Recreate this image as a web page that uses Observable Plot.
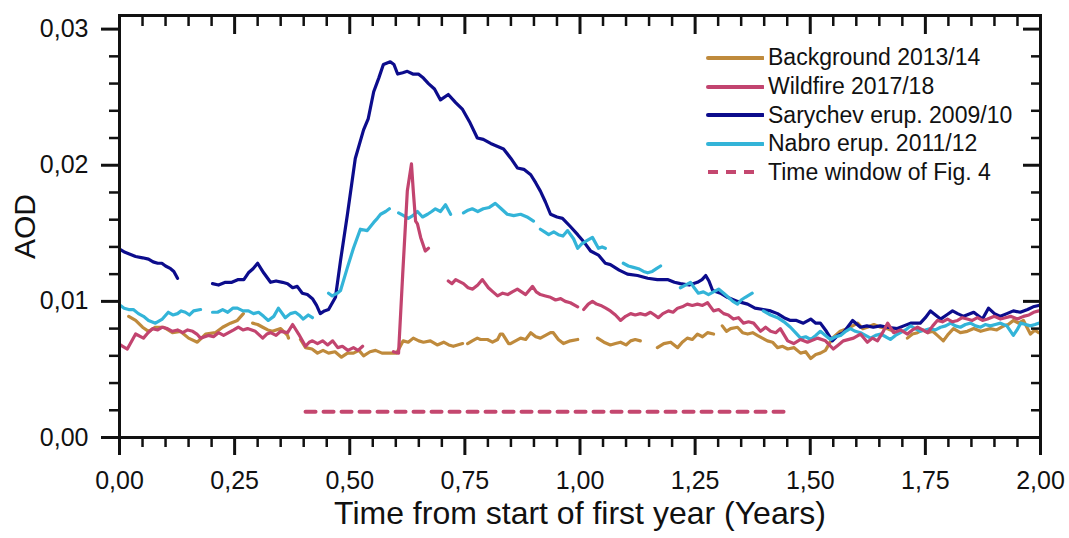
<!DOCTYPE html>
<html><head><meta charset="utf-8">
<script src="https://cdn.jsdelivr.net/npm/d3@7"></script>
<script src="https://cdn.jsdelivr.net/npm/@observablehq/plot@0.6"></script>
<style>
body{margin:0;background:#fff;}
#wrap{position:relative;width:1069px;height:538px;font-family:"Liberation Sans",Arial,sans-serif;}
#legend{position:absolute;left:706px;top:43.7px;}
.row{display:flex;align-items:center;height:28.6px;font-size:23px;color:#111;white-space:nowrap;}
.row svg{margin-right:4px;}
</style></head><body><div id="wrap"><div id="legend"></div></div>
<script>
// ---- data: [time (years), AOD]; NaN marks a gap in the record ----
const background = [
  [0.020,0.0089],[0.035,0.0086],[0.050,0.0081],[0.063,0.0078],[0.078,0.0081],[0.096,0.0081],[0.115,0.0077],[0.132,0.0078],[0.150,0.0073],[0.169,0.0070],[0.187,0.0076],[0.208,0.0077],[0.224,0.0081],[0.241,0.0084],[0.256,0.0086],[0.269,0.0091],
  [0.278,NaN],
  [0.289,0.0084],[0.300,0.0083],[0.311,0.0081],[0.322,0.0079],[0.332,0.0078],[0.350,0.0080],[0.365,0.0075],[0.367,0.0073],
  [0.380,NaN],
  [0.393,0.0072],[0.404,0.0066],[0.418,0.0065],[0.430,0.0062],[0.442,0.0064],[0.454,0.0062],[0.468,0.0063],[0.482,0.0059],[0.495,0.0062],[0.508,0.0062],[0.520,0.0064],[0.530,0.0060],[0.544,0.0063],[0.556,0.0064],[0.570,0.0062],[0.584,0.0062],[0.602,0.0062],[0.616,0.0071],[0.627,0.0070],[0.638,0.0073],[0.650,0.0071],[0.660,0.0070],[0.675,0.0071],[0.690,0.0068],[0.704,0.0070],[0.715,0.0068],[0.725,0.0067],[0.745,0.0069],
  [0.750,NaN],
  [0.756,0.0069],[0.766,0.0071],[0.777,0.0073],[0.784,0.0072],[0.799,0.0072],[0.810,0.0070],[0.821,0.0072],[0.827,0.0076],[0.832,0.0076],[0.845,0.0069],[0.849,0.0069],[0.860,0.0071],[0.871,0.0073],[0.882,0.0072],[0.893,0.0077],[0.904,0.0074],[0.914,0.0073],[0.925,0.0075],[0.936,0.0077],[0.942,0.0077],[0.953,0.0072],[0.964,0.0069],[0.979,0.0071],[0.995,0.0072],
  [1.020,NaN],
  [1.038,0.0073],[1.052,0.0070],[1.066,0.0068],[1.077,0.0069],[1.088,0.0070],[1.100,0.0068],[1.110,0.0071],[1.120,0.0072],[1.131,0.0071],
  [1.150,NaN],
  [1.168,0.0066],[1.182,0.0069],[1.197,0.0070],[1.212,0.0066],[1.222,0.0070],[1.233,0.0073],[1.244,0.0072],[1.255,0.0076],[1.266,0.0074],[1.277,0.0077],[1.290,0.0076],
  [1.300,NaN],
  [1.309,0.0082],[1.318,0.0078],[1.327,0.0080],[1.342,0.0081],[1.353,0.0077],[1.364,0.0076],[1.375,0.0077],[1.385,0.0075],[1.396,0.0073],[1.407,0.0071],[1.418,0.0070],[1.429,0.0066],[1.440,0.0067],[1.451,0.0065],[1.465,0.0066],[1.479,0.0062],[1.490,0.0063],[1.501,0.0058],[1.512,0.0061],[1.522,0.0062],[1.533,0.0064],[1.548,0.0073],[1.565,0.0078],[1.581,0.0080],[1.592,0.0082],[1.603,0.0084],[1.614,0.0080],[1.624,0.0081],[1.638,0.0083],[1.653,0.0081],[1.667,0.0080],[1.681,0.0078],
  [1.695,NaN],
  [1.711,0.0073],[1.722,0.0076],[1.733,0.0077],[1.744,0.0079],[1.755,0.0077],[1.766,0.0078],[1.776,0.0075],[1.789,0.0071],[1.800,0.0076],[1.811,0.0080],[1.826,0.0077],[1.841,0.0078],[1.855,0.0080],[1.870,0.0078],[1.880,0.0079],[1.891,0.0080],[1.905,0.0079],[1.920,0.0082],[1.930,0.0083],[1.941,0.0086],[1.952,0.0084],[1.963,0.0086],[1.978,0.0076],[1.988,0.0079],[1.996,0.0077]
];
const wildfire = [
  [0.002,0.0068],[0.007,0.0067],[0.017,0.0065],[0.035,0.0076],[0.052,0.0073],[0.062,0.0077],[0.072,0.0080],[0.083,0.0079],[0.093,0.0081],[0.104,0.0080],[0.115,0.0078],[0.126,0.0079],[0.137,0.0077],[0.148,0.0079],[0.159,0.0078],[0.168,0.0076],[0.176,0.0073],[0.193,0.0075],[0.204,0.0074],[0.215,0.0077],[0.226,0.0075],[0.237,0.0077],[0.248,0.0079],[0.258,0.0081],[0.268,0.0079],[0.278,0.0080],[0.295,0.0078],[0.311,0.0073],[0.320,0.0076],[0.328,0.0077],[0.340,0.0075],[0.350,0.0078],[0.365,0.0077],[0.376,0.0083],[0.389,0.0076],[0.404,0.0067],[0.412,0.0070],[0.419,0.0071],[0.430,0.0069],[0.441,0.0071],[0.452,0.0068],[0.463,0.0071],[0.474,0.0066],[0.484,0.0067],[0.496,0.0064],[0.508,0.0066],[0.518,0.0064],[0.528,0.0067],
  [0.560,NaN],
  [0.595,0.0063],[0.606,0.0062],[0.615,0.0120],[0.625,0.0181],[0.634,0.0201],[0.638,0.0181],[0.643,0.0159],[0.647,0.0157],[0.654,0.0147],[0.664,0.0137],[0.671,0.0139],
  [0.690,NaN],
  [0.714,0.0115],[0.722,0.0113],[0.730,0.0116],[0.747,0.0113],[0.757,0.0110],[0.767,0.0109],[0.778,0.0112],[0.788,0.0116],[0.801,0.0110],[0.811,0.0107],[0.821,0.0104],[0.832,0.0106],[0.843,0.0105],[0.853,0.0107],[0.864,0.0109],[0.873,0.0107],[0.882,0.0105],[0.897,0.0111],[0.905,0.0107],[0.914,0.0105],[0.925,0.0104],[0.936,0.0103],[0.947,0.0101],[0.958,0.0102],[0.968,0.0100],[0.979,0.0099],[0.995,0.0096],
  [1.000,NaN],
  [1.008,0.0094],[1.018,0.0098],[1.027,0.0100],[1.036,0.0098],[1.045,0.0097],[1.056,0.0095],[1.066,0.0093],[1.077,0.0090],[1.088,0.0086],[1.099,0.0089],[1.110,0.0091],[1.120,0.0090],[1.131,0.0091],[1.142,0.0090],[1.153,0.0092],[1.162,0.0090],[1.170,0.0088],[1.180,0.0091],[1.192,0.0093],[1.202,0.0092],[1.212,0.0095],[1.222,0.0096],[1.233,0.0098],[1.244,0.0097],[1.255,0.0098],[1.266,0.0097],[1.277,0.0099],[1.290,0.0093],[1.301,0.0094],[1.312,0.0091],[1.322,0.0090],[1.333,0.0087],[1.344,0.0088],[1.355,0.0084],[1.366,0.0085],[1.377,0.0084],[1.392,0.0078],[1.403,0.0081],[1.414,0.0078],[1.425,0.0077],[1.435,0.0080],[1.451,0.0071],[1.464,0.0069],[1.479,0.0072],[1.494,0.0070],[1.516,0.0073],[1.533,0.0071],[1.550,0.0065],[1.561,0.0068],[1.572,0.0071],[1.594,0.0073],[1.609,0.0076],[1.624,0.0070],[1.635,0.0073],[1.646,0.0071],[1.657,0.0077],[1.668,0.0084],[1.681,0.0077],[1.696,0.0079],[1.711,0.0076],[1.722,0.0079],[1.733,0.0081],[1.744,0.0079],[1.755,0.0077],[1.766,0.0082],[1.776,0.0086],[1.787,0.0085],[1.798,0.0087],[1.809,0.0085],[1.820,0.0086],[1.830,0.0088],[1.841,0.0087],[1.852,0.0086],[1.863,0.0088],[1.874,0.0086],[1.885,0.0087],[1.900,0.0089],[1.913,0.0087],[1.924,0.0088],[1.935,0.0089],[1.950,0.0087],[1.963,0.0089],[1.975,0.0090],[1.985,0.0092],[1.996,0.0093]
];
const sarychev = [
  [0.002,0.0138],[0.012,0.0136],[0.020,0.0135],[0.035,0.0133],[0.050,0.0132],[0.063,0.0131],[0.073,0.0129],[0.083,0.0128],[0.092,0.0128],[0.100,0.0126],[0.111,0.0124],[0.118,0.0122],[0.126,0.0117],
  [0.160,NaN],
  [0.202,0.0113],[0.215,0.0112],[0.230,0.0114],[0.244,0.0114],[0.258,0.0116],[0.270,0.0116],[0.280,0.0121],[0.290,0.0124],[0.300,0.0128],[0.313,0.0121],[0.328,0.0114],[0.340,0.0115],[0.354,0.0114],[0.365,0.0113],[0.376,0.0110],[0.386,0.0111],[0.397,0.0106],[0.408,0.0105],[0.419,0.0102],[0.428,0.0097],[0.436,0.0091],[0.445,0.0093],[0.454,0.0094],[0.469,0.0103],[0.480,0.0130],[0.495,0.0164],[0.512,0.0205],[0.530,0.0226],[0.540,0.0234],[0.552,0.0254],[0.563,0.0264],[0.573,0.0274],[0.588,0.0276],[0.596,0.0274],[0.604,0.0267],[0.615,0.0268],[0.625,0.0269],[0.637,0.0267],[0.649,0.0267],[0.660,0.0264],[0.671,0.0260],[0.684,0.0256],[0.697,0.0248],[0.714,0.0252],[0.730,0.0246],[0.745,0.0241],[0.760,0.0232],[0.777,0.0220],[0.790,0.0219],[0.806,0.0216],[0.820,0.0214],[0.834,0.0212],[0.850,0.0205],[0.864,0.0198],[0.878,0.0197],[0.893,0.0193],[0.904,0.0187],[0.914,0.0181],[0.925,0.0173],[0.936,0.0164],[0.950,0.0162],[0.962,0.0161],[0.979,0.0155],[0.995,0.0149],[1.010,0.0143],[1.023,0.0137],[1.040,0.0134],[1.055,0.0128],[1.066,0.0127],[1.085,0.0123],[1.103,0.0120],[1.125,0.0119],[1.147,0.0117],[1.168,0.0116],[1.190,0.0116],[1.205,0.0114],[1.218,0.0113],[1.237,0.0112],[1.255,0.0114],[1.265,0.0116],[1.273,0.0119],[1.280,0.0115],[1.288,0.0108],[1.305,0.0106],[1.320,0.0103],[1.342,0.0100],[1.364,0.0098],[1.380,0.0095],[1.398,0.0094],[1.414,0.0093],[1.429,0.0091],[1.443,0.0088],[1.457,0.0086],[1.470,0.0086],[1.485,0.0084],[1.501,0.0087],[1.512,0.0084],[1.522,0.0084],[1.535,0.0078],[1.548,0.0071],[1.560,0.0075],[1.572,0.0077],[1.592,0.0086],[1.609,0.0081],[1.623,0.0082],[1.637,0.0081],[1.652,0.0082],[1.668,0.0081],[1.689,0.0080],[1.703,0.0082],[1.718,0.0084],[1.739,0.0084],[1.750,0.0088],[1.761,0.0093],[1.772,0.0090],[1.783,0.0087],[1.796,0.0090],[1.809,0.0093],[1.820,0.0091],[1.833,0.0089],[1.855,0.0092],[1.874,0.0087],[1.887,0.0095],[1.900,0.0091],[1.913,0.0089],[1.927,0.0091],[1.941,0.0093],[1.956,0.0092],[1.972,0.0094],[1.984,0.0096],[1.996,0.0097]
];
const nabro = [
  [0.002,0.0097],[0.010,0.0095],[0.020,0.0094],[0.030,0.0094],[0.041,0.0091],[0.052,0.0089],[0.063,0.0086],[0.078,0.0084],[0.093,0.0087],[0.106,0.0092],[0.116,0.0090],[0.126,0.0091],[0.134,0.0093],[0.143,0.0092],[0.152,0.0090],[0.161,0.0093],[0.176,0.0094],
  [0.190,NaN],
  [0.202,0.0092],[0.213,0.0092],[0.224,0.0094],[0.235,0.0092],[0.246,0.0095],[0.256,0.0095],[0.268,0.0093],[0.280,0.0093],[0.291,0.0091],[0.302,0.0092],[0.313,0.0089],[0.323,0.0086],[0.335,0.0089],[0.345,0.0095],[0.360,0.0088],[0.371,0.0091],[0.382,0.0092],[0.390,0.0090],[0.399,0.0087],[0.410,0.0090],[0.419,0.0088],
  [0.440,NaN],
  [0.454,0.0106],[0.462,0.0104],[0.473,0.0106],[0.480,0.0108],[0.495,0.0125],[0.508,0.0139],[0.523,0.0153],[0.538,0.0152],[0.552,0.0158],[0.560,0.0161],[0.567,0.0164],[0.578,0.0166],[0.586,0.0168],
  [0.595,NaN],
  [0.606,0.0165],[0.617,0.0163],[0.627,0.0161],[0.637,0.0163],[0.647,0.0166],[0.658,0.0162],[0.669,0.0164],[0.678,0.0166],[0.686,0.0168],[0.697,0.0166],[0.708,0.0171],[0.719,0.0164],
  [0.730,NaN],
  [0.747,0.0165],[0.757,0.0167],[0.766,0.0168],[0.778,0.0166],[0.790,0.0168],[0.803,0.0169],[0.816,0.0172],[0.829,0.0168],[0.842,0.0164],[0.856,0.0163],[0.871,0.0164],[0.885,0.0162],[0.899,0.0159],
  [0.905,NaN],
  [0.914,0.0153],[0.923,0.0151],[0.932,0.0149],[0.943,0.0151],[0.953,0.0149],[0.963,0.0148],[0.973,0.0152],[0.986,0.0146],[0.995,0.0139],[1.003,0.0142],[1.012,0.0144],[1.027,0.0147],[1.040,0.0139],[1.048,0.0140],[1.055,0.0139],
  [1.070,NaN],
  [1.094,0.0128],[1.105,0.0126],[1.116,0.0125],[1.127,0.0124],[1.138,0.0122],[1.147,0.0121],[1.157,0.0122],[1.166,0.0124],[1.175,0.0126],
  [1.190,NaN],
  [1.218,0.0110],[1.229,0.0112],[1.240,0.0114],[1.248,0.0110],[1.257,0.0106],[1.268,0.0107],[1.279,0.0105],[1.290,0.0107],[1.301,0.0109],[1.312,0.0106],[1.322,0.0103],[1.332,0.0100],[1.342,0.0098],[1.350,0.0101],[1.359,0.0103],[1.374,0.0106],
  [1.385,NaN],
  [1.398,0.0093],[1.414,0.0090],[1.429,0.0088],[1.443,0.0085],[1.457,0.0081],[1.468,0.0077],[1.479,0.0073],[1.490,0.0074],[1.501,0.0072],[1.512,0.0075],[1.522,0.0078],[1.533,0.0075],[1.544,0.0072],[1.555,0.0074],[1.566,0.0075],[1.577,0.0078],[1.587,0.0080],[1.598,0.0078],[1.609,0.0077],[1.620,0.0075],[1.631,0.0073],[1.642,0.0075],[1.653,0.0076],[1.664,0.0074],[1.674,0.0072],[1.685,0.0075],[1.696,0.0077],[1.707,0.0079],[1.718,0.0082],[1.728,0.0080],[1.739,0.0078],[1.750,0.0079],[1.761,0.0080],[1.772,0.0079],[1.783,0.0081],[1.794,0.0082],[1.805,0.0084],[1.815,0.0082],[1.826,0.0081],[1.837,0.0083],[1.848,0.0084],[1.859,0.0082],[1.870,0.0081],[1.880,0.0083],[1.891,0.0082],[1.902,0.0083],[1.913,0.0084],[1.927,0.0082],[1.941,0.0075],[1.949,0.0079],[1.957,0.0084],[1.968,0.0083],[1.978,0.0082],[1.988,0.0083],[1.996,0.0084]
];
const timeWindow = [[0.404,0.0019],[1.453,0.0019]];

const seriesNames = ["Background 2013/14","Wildfire 2017/18","Sarychev erup. 2009/10","Nabro erup. 2011/12","Time window of Fig. 4"];
const seriesColors = ["#bf8a3c","#c2446f","#0c0c8c","#33b4d8","#c4476f"];

const xMajor = [0,0.25,0.5,0.75,1,1.25,1.5,1.75,2];
const xMinor = [0.05,0.1,0.15,0.2,0.3,0.35,0.4,0.45,0.55,0.6,0.65,0.7,0.8,0.85,0.9,0.95,1.05,1.1,1.15,1.2,1.3,1.35,1.4,1.45,1.55,1.6,1.65,1.7,1.8,1.85,1.9,1.95];
const yMajor = [0,0.01,0.02,0.03];
const yMinor = [0.002,0.004,0.006,0.008,0.012,0.014,0.016,0.018,0.022,0.024,0.026,0.028];
const xTitle = "Time from start of first year (Years)";
const yTitle = "AOD";

const fmt2 = d => d.toFixed(2).replace(".", ",");
const blank = () => "";
const X = d => d[0], Y = d => d[1];

const chart = Plot.plot({
  width: 1069, height: 538,
  marginLeft: 119, marginRight: 29, marginTop: 15, marginBottom: 101,
  x: {domain: [0, 2]},
  y: {domain: [0, 0.031]},
  style: {fontFamily: "'Liberation Sans', Arial, sans-serif", background: "white", color: "#111", overflow: "visible"},
  marks: [
    Plot.line(timeWindow, {x: X, y: Y, stroke: seriesColors[4], strokeWidth: 4, strokeDasharray: "10,8"}),
    Plot.line(background, {x: X, y: Y, stroke: seriesColors[0], strokeWidth: 3.2}),
    Plot.line(sarychev, {x: X, y: Y, stroke: seriesColors[2], strokeWidth: 3.2}),
    Plot.line(nabro, {x: X, y: Y, stroke: seriesColors[3], strokeWidth: 3.2}),
    Plot.line(wildfire, {x: X, y: Y, stroke: seriesColors[1], strokeWidth: 3.2}),
    // bottom axis
    Plot.axisX({ticks: xMajor, anchor: "bottom", tickSize: 18, tickPadding: 16, tickFormat: fmt2, fontSize: 25, strokeWidth: 3, label: null}),
    Plot.axisX({ticks: xMinor, anchor: "bottom", tickSize: 10, tickFormat: blank, strokeWidth: 2.5, label: null}),
    // top axis (inward)
    Plot.axisX({ticks: xMajor, anchor: "top", tickSize: 18, dy: 18, tickFormat: blank, strokeWidth: 3, label: null}),
    Plot.axisX({ticks: xMinor, anchor: "top", tickSize: 10, dy: 10, tickFormat: blank, strokeWidth: 2.5, label: null}),
    // left axis
    Plot.axisY({ticks: yMajor, anchor: "left", tickSize: 18, tickPadding: 13, tickFormat: fmt2, fontSize: 25, strokeWidth: 3, label: null}),
    Plot.axisY({ticks: yMinor, anchor: "left", tickSize: 10, tickFormat: blank, strokeWidth: 2.5, label: null}),
    // right axis (inward)
    Plot.axisY({ticks: yMajor, anchor: "right", tickSize: 18, dx: -18, tickFormat: blank, strokeWidth: 3, label: null}),
    Plot.axisY({ticks: yMinor, anchor: "right", tickSize: 10, dx: -10, tickFormat: blank, strokeWidth: 2.5, label: null}),
    Plot.frame({stroke: "#111", strokeWidth: 3}),
    Plot.text([xTitle], {frameAnchor: "bottom", textAnchor: "middle", dy: 86, fontSize: 32, fill: "#111"}),
    Plot.text([yTitle], {frameAnchor: "left", textAnchor: "middle", dx: -94, rotate: -90, fontSize: 30, fill: "#111"})
  ]
});
document.getElementById("wrap").prepend(chart);

// legend (HTML overlay inside the plot frame)
const legend = document.getElementById("legend");
seriesNames.forEach((name, i) => {
  const row = document.createElement("div");
  row.className = "row";
  const dashed = i === 4;
  row.innerHTML = `<svg width="58" height="10"><line x1="2" y1="5" x2="${dashed ? 48 : 57}" y2="5" stroke="${seriesColors[i]}" stroke-width="4" stroke-linecap="${dashed ? "butt" : "round"}"${dashed ? ' stroke-dasharray="10,8"' : ""}/></svg><span>${name}</span>`;
  legend.appendChild(row);
});
</script>
</body></html>
